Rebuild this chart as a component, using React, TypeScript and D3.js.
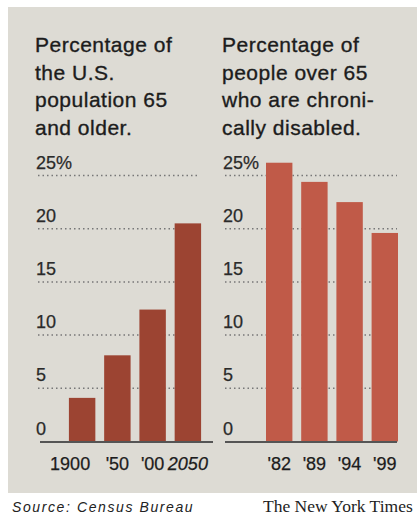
import React from "react";
import * as d3 from "d3";

const leftCategories = ["1900", "'50", "'00", "2050"];
const leftValues = [4.1, 8.1, 12.4, 20.5];
const rightCategories = ["'82", "'89", "'94", "'99"];
const rightValues = [26.2, 24.4, 22.5, 19.6];
const tickValues = [0, 5, 10, 15, 20, 25];
const tickLabels = ["0", "5", "10", "15", "20", "25%"];
const leftTitle = ["Percentage of", "the U.S.", "population 65", "and older."];
const rightTitle = ["Percentage of", "people over 65", "who are chroni-", "cally disabled."];
const sourceText = "Source: Census Bureau";
const creditText = "The New York Times";

const W = 417;
const H = 519;
const font = "'Liberation Sans', Arial, Helvetica, sans-serif";

export default function App() {
  const y = d3.scaleLinear().domain([0, 25]).range([441.5, 175.5]);
  const xLeft = d3
    .scaleBand<string>()
    .domain(leftCategories)
    .range([64.5, 205.5])
    .paddingInner(0.25)
    .paddingOuter(0.125);
  const xRight = d3
    .scaleBand<string>()
    .domain(rightCategories)
    .range([261.6, 402.4])
    .paddingInner(0.25)
    .paddingOuter(0.125);

  const panels = [
    {
      x: xLeft,
      cats: leftCategories,
      vals: leftValues,
      color: "#9c4432",
      title: leftTitle,
      tx: 35,
      gx0: 38,
      gx1: 200,
      bx0: 40,
      bx1: 213,
    },
    {
      x: xRight,
      cats: rightCategories,
      vals: rightValues,
      color: "#c05a48",
      title: rightTitle,
      tx: 222,
      gx0: 225,
      gx1: 397,
      bx0: 225,
      bx1: 397,
    },
  ];

  return (
    <svg
      width={W}
      height={H}
      style={{ position: "absolute", left: 0, top: 0, background: "#ffffff" }}
      fontFamily={font}
    >
      <rect x={8} y={7} width={W - 8} height={486} fill="#dddbd4" />
      {panels.map((p, pi) => (
        <g key={pi}>
          {p.title.map((line, i) => (
            <text
              key={i}
              x={p.tx}
              y={52 + i * 27.7}
              fontSize={21}
              fill="#1c1c1c"
              stroke="#1c1c1c"
              strokeWidth={0.35}
              letterSpacing={0.5}
            >
              {line}
            </text>
          ))}
          {tickValues.map((t, i) =>
            t === 0 ? null : (
              <line
                key={"g" + i}
                x1={p.gx0}
                x2={p.gx1}
                y1={y(t)}
                y2={y(t)}
                stroke="#777"
                strokeWidth={1.5}
                strokeDasharray="1.5,3"
              />
            )
          )}
          {tickValues.map((t, i) => (
            <text
              key={"t" + i}
              x={p.tx + 1}
              y={y(t) - 7}
              fontSize={18}
              fill="#2a2a2a"
              stroke="#2a2a2a"
              strokeWidth={0.25}
            >
              {tickLabels[i]}
            </text>
          ))}
          {p.cats.map((c, i) => (
            <rect
              key={"b" + i}
              x={p.x(c)}
              y={y(p.vals[i])}
              width={p.x.bandwidth()}
              height={y(0) - y(p.vals[i])}
              fill={p.color}
            />
          ))}
          <line
            x1={p.bx0}
            x2={p.bx1}
            y1={y(0) + 0.5}
            y2={y(0) + 0.5}
            stroke="#555"
            strokeWidth={2}
          />
          {p.cats.map((c, i) => (
            <text
              key={"x" + i}
              x={(p.x(c) as number) + p.x.bandwidth() / 2 + (pi === 0 && i === 0 ? -12 : 0)}
              y={470}
              fontSize={18}
              fill="#1c1c1c"
              stroke="#1c1c1c"
              strokeWidth={0.25}
              textAnchor="middle"
              fontStyle={pi === 0 && i === 3 ? "italic" : "normal"}
            >
              {c}
            </text>
          ))}
        </g>
      ))}
      <text
        x={12}
        y={512}
        fontSize={14}
        fontStyle="italic"
        fill="#222"
        letterSpacing={1.6}
      >
        {sourceText}
      </text>
      <text
        x={263}
        y={512}
        fontSize={17.5}
        fontFamily="'Liberation Serif', 'Times New Roman', serif"
        fill="#222"
      >
        {creditText}
      </text>
    </svg>
  );
}
